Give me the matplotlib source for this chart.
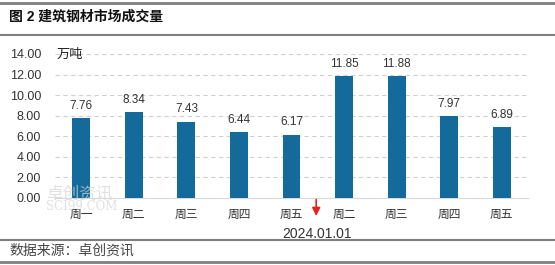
import matplotlib
matplotlib.use("Agg")
import matplotlib.pyplot as plt
from matplotlib.lines import Line2D

plt.rcParams['font.family'] = ['Liberation Sans', 'Noto Sans CJK SC', 'DejaVu Sans']

categories = ['周一', '周二', '周三', '周四', '周五', '周二', '周三', '周四', '周五']
values = [7.76, 8.34, 7.43, 6.44, 6.17, 11.85, 11.88, 7.97, 6.89]
yticks = [0, 2, 4, 6, 8, 10, 12, 14]
title = '图 2 建筑钢材市场成交量'
unit = '万吨'
date_label = '2024.01.01'
source = '数据来源：卓创资讯'

W, H = 555, 265
fig = plt.figure(figsize=(W / 100, H / 100), dpi=100)
ax = fig.add_axes([55 / W, 1 - 198 / H, (528 - 55) / W, (198 - 54) / H])

x = list(range(len(categories)))
ax.bar(x, values, width=0.34, color='#136a9b', zorder=3)
for xi, v in zip(x, values):
    ax.text(xi, v + 0.6, f'{v:.2f}', ha='center', va='bottom', fontsize=8.5, color='#333333')

ax.set_xlim(-0.5, len(categories) - 0.5)
ax.set_ylim(0, 14)
ax.set_yticks(yticks)
ax.set_yticklabels([f'{t:.2f}' for t in yticks], fontsize=9, color='#333333')
ax.set_xticks(x)
ax.set_xticklabels(categories, fontsize=8.5, color='#333333')
ax.tick_params(axis='x', length=0, pad=8)
ax.tick_params(axis='y', length=0, pad=10)
ax.yaxis.grid(True, linestyle=(0, (4, 3)), color='#d0d0d0', linewidth=0.8, zorder=0)
for s in ['top', 'right', 'left']:
    ax.spines[s].set_visible(False)
ax.spines['bottom'].set_color('#d9d9d9')

fig.text(57 / W, 1 - 55 / H, unit, fontsize=9.5, va='center', ha='left', color='#222222')
ax.annotate('', xy=(4.47, -1.75), xytext=(4.47, -0.15), xycoords='data',
            arrowprops=dict(arrowstyle='-|>', color='#e8231b', lw=1.2, mutation_scale=12,
                            shrinkA=0, shrinkB=0),
            annotation_clip=False)
fig.text(317 / W, 1 - 234 / H, date_label, ha='center', va='center', fontsize=10, color='#333333')

# watermark
fig.text(46 / W, 1 - 194 / H, '卓创资讯', fontsize=12, color='#d4d4d4', alpha=0.7, va='center')
fig.text(46 / W, 1 - 207 / H, 'SCI99.COM', fontsize=8.5, color='#d4d4d4', alpha=0.7, va='center',
         family='DejaVu Serif')

fig.text(9 / W, 1 - 17 / H, title, fontsize=10, fontweight='bold', va='center', ha='left', color='#111111')
fig.text(9 / W, 1 - 251 / H, source, fontsize=10, va='center', ha='left', color='#444444')

for yy, lw in [(3, 2.0), (35, 1.5), (240, 1.5), (262, 2.0)]:
    fig.add_artist(Line2D([0, 1], [1 - yy / H, 1 - yy / H], color='#7f7f7f', lw=lw))

fig.savefig('out.png', dpi=100)
